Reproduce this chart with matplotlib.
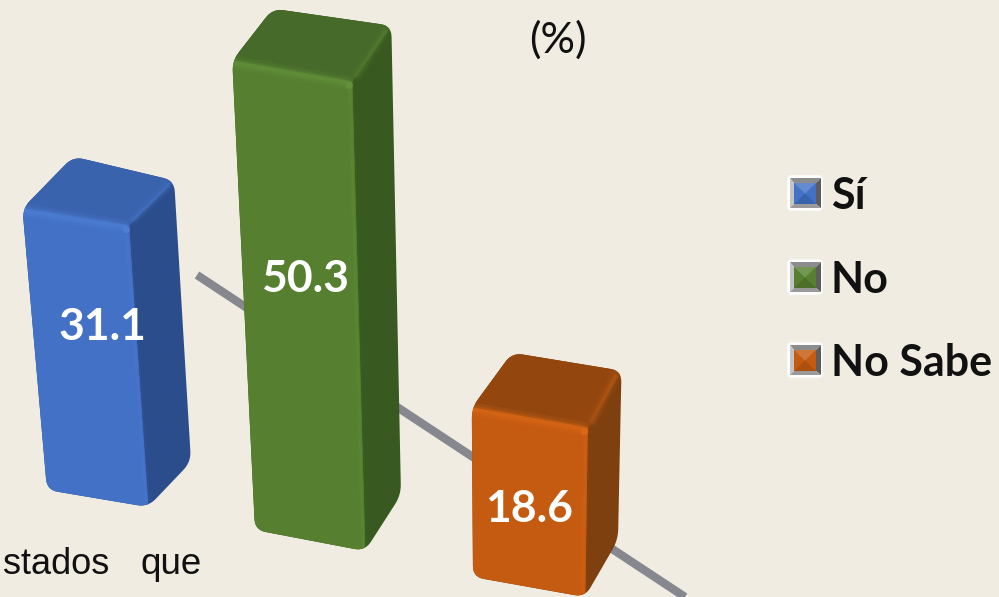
import numpy as np
from matplotlib import pyplot as plt
from matplotlib.patches import FancyBboxPatch, Polygon

categories = ['Sí', 'No', 'No Sabe']
values = [31.1, 50.3, 18.6]
front_colors = ['#4271c6', '#567f30', '#c55a11']
top_colors = ['#3a63ad', '#466a2a', '#93470e']
side_colors = ['#2c4d8c', '#38591f', '#7f400f']
light_colors = ['#4f80d8', '#64933a', '#dc6a18']

BG = '#f0ece1'
# vanishing point of the vertical edges, everything is in picture pixels
VP = np.array([510.0, 5790.0])

# floor corners of each bar: front left, front right, back right, back left
floors = [
    [(47, 490), (148, 507), (191, 462), (95, 438)],
    [(255, 530), (365, 551), (401, 495), (292, 478)],
    [(473, 577), (585, 597), (618, 540), (512, 522)],
]
px_per_unit = [9.05, 9.33, 9.1]
label_pos = [(102, 327), (305, 279), (529, 509)]


def lift(p, h):
    # move a floor point up by h pixels, leaning toward the vanishing point
    p = np.array(p, dtype=float)
    d = VP - p
    return p + d / d[1] * (-h)


def rounded(pts, r):
    # replace every corner with a small bezier so the outline looks soft
    pts = [np.array(p, dtype=float) for p in pts]
    out = []
    n = len(pts)
    for i in range(n):
        p, a, b = pts[i], pts[i - 1], pts[(i + 1) % n]
        s = p + (a - p) / np.linalg.norm(a - p) * r
        e = p + (b - p) / np.linalg.norm(b - p) * r
        for t in np.linspace(0, 1, 8):
            out.append((1 - t) ** 2 * s + 2 * t * (1 - t) * p + t ** 2 * e)
    return np.array(out)


def draw_bar(ax, floor, h, front, top, side, light, value, pos):
    fl, fr, br, bl = floor
    tfl, tfr, tbr, tbl = [lift(p, h) for p in floor]
    outline = Polygon(rounded([fl, fr, br, tbr, tbl, tfl], 11), closed=True,
                      fc=side, ec='none', zorder=3)
    ax.add_patch(outline)
    for pts, col, z in [
        ([tfl, tfr, tbr, tbl], top, 4),
        ([fl, fr, tfr, tfl], front, 5),
    ]:
        face = Polygon(np.array(pts), closed=True, fc=col, ec=col, lw=0.5, zorder=z)
        ax.add_patch(face)
        face.set_clip_path(outline)
    # soft bevel along the edges
    marks = []
    for w, a in [(10, 0.16), (6, 0.28), (3, 0.4)]:
        marks += ax.plot([tfl[0] + 2, tfr[0] - 5], [tfl[1] + 2, tfr[1] + 1], color=light,
                         lw=w, alpha=a, solid_capstyle='round', zorder=6)
        marks += ax.plot([tfr[0] + 5, tbr[0] - 6], [tfr[1] - 6, tbr[1] + 6], color=light,
                         lw=w * 0.8, alpha=a * 0.45, solid_capstyle='round', zorder=6)
        marks += ax.plot([tfr[0] - 2, fr[0] - 2], [tfr[1] + 6, fr[1] - 8], color=light,
                         lw=w * 0.6, alpha=a * 0.4, solid_capstyle='round', zorder=6)
    for m in marks:
        m.set_clip_path(outline)
    ax.plot([tfr[0] - 3], [tfr[1] + 3], 'o', ms=5, mew=0, color=light, alpha=0.9, zorder=7)
    ax.text(pos[0], pos[1], f'{value:.1f}', color='white', fontsize=32, fontweight='bold',
            family='Lato', ha='center', va='center', zorder=8)


fig = plt.figure(figsize=(9.99, 5.97), dpi=100, facecolor=BG)
ax = fig.add_axes([0, 0, 1, 1])
ax.set_xlim(0, 999)
ax.set_ylim(597, 0)
ax.axis('off')

# grey floor line behind the bars
ax.plot([197, 685], [275, 597], color='#87878f', lw=6, solid_capstyle='butt', zorder=1)

for i, v in enumerate(values):
    draw_bar(ax, floors[i], v * px_per_unit[i], front_colors[i], top_colors[i],
             side_colors[i], light_colors[i], v, label_pos[i])

ax.text(558, 40, '(%)', fontsize=31, family='Lato', color='#111111',
        ha='center', va='center')

ax.text(3, 565, 'stados', fontsize=26, family='Liberation Sans', color='#111111',
        ha='left', va='center')
ax.text(141, 565, 'que', fontsize=26.5, family='Liberation Sans', color='#111111',
        ha='left', va='center')

# legend
legend_y = [193, 277, 360]
for name, col, y in zip(categories, front_colors, legend_y):
    ax.add_patch(FancyBboxPatch((788, y - 17), 34, 34, boxstyle='round,pad=0,rounding_size=3',
                                fc='white', ec='white', lw=1, zorder=2))
    x0, x1, y0, y1 = 790, 821, y - 15, y + 15
    ix0, ix1, iy0, iy1 = 794, 816, y - 10, y + 11
    cx, cy = (ix0 + ix1) / 2, (iy0 + iy1) / 2
    for pts, c in [
        ([(x0, y0), (x1, y0), (ix1, iy0), (ix0, iy0)], '#8c8c8c'),
        ([(x0, y0), (x0, y1), (ix0, iy1), (ix0, iy0)], '#c4c4c4'),
        ([(x1, y0), (x1, y1), (ix1, iy1), (ix1, iy0)], '#5c5c5c'),
        ([(x0, y1), (x1, y1), (ix1, iy1), (ix0, iy1)], '#9a9a9a'),
    ]:
        ax.add_patch(Polygon(pts, closed=True, fc=c, ec='none', zorder=3))
    ax.add_patch(Polygon([(ix0, iy0), (ix1, iy0), (ix1, iy1), (ix0, iy1)], closed=True,
                         fc=col, ec='none', zorder=4))
    ax.add_patch(Polygon([(ix0, iy0), (ix1, iy0), (cx, cy)], closed=True, fc='white',
                         alpha=0.18, ec='none', zorder=5))
    ax.add_patch(Polygon([(ix0, iy1), (ix1, iy1), (cx, cy)], closed=True, fc='black',
                         alpha=0.12, ec='none', zorder=5))
    ax.text(831, y + 3, name, fontsize=31, fontweight='bold', family='Lato',
            color='#111111', ha='left', va='center')

fig.savefig('out.png', dpi=100, facecolor=BG)
